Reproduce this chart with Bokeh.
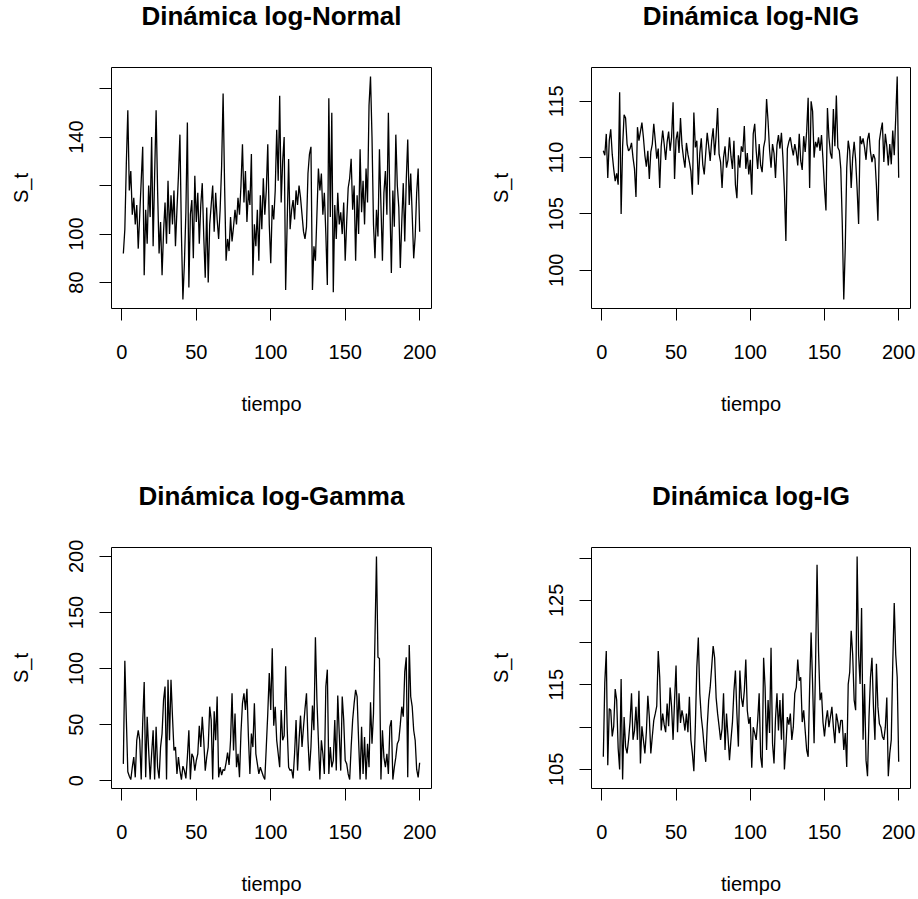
from bokeh.plotting import figure
from bokeh.models import Range1d, FixedTicker, Label
from bokeh.layouts import column, row
from bokeh.embed import file_html
from bokeh.resources import INLINE

tiempo = list(range(1, 201))

s_normal = [
    92, 102, 129, 151, 118, 126, 108, 115, 104, 112,
    94, 108, 122, 136, 83, 110, 96, 120, 107, 140,
    95, 124, 151, 118, 92, 105, 83, 101, 113, 96,
    122, 100, 116, 104, 118, 95, 110, 124, 141, 100,
    73, 88, 109, 146, 78, 108, 114, 90, 124, 105,
    117, 96, 112, 121, 99, 82, 111, 80, 104, 112,
    120, 101, 117, 106, 98, 110, 128, 158, 120, 89,
    98, 93, 107, 97, 103, 110, 104, 115, 108, 120,
    137, 113, 126, 105, 118, 112, 133, 83, 104, 95,
    110, 89, 116, 102, 123, 108, 118, 137, 104, 88,
    112, 106, 118, 143, 122, 157, 113, 130, 140, 77,
    104, 131, 102, 110, 114, 106, 118, 112, 120, 115,
    108, 101, 98, 103, 125, 133, 136, 77, 95, 89,
    108, 127, 118, 125, 108, 117, 100, 79, 156, 107,
    150, 76, 112, 98, 117, 104, 109, 100, 113, 89,
    105, 119, 123, 131, 110, 120, 89, 116, 100, 135,
    109, 122, 104, 127, 113, 153, 165, 140, 104, 90,
    110, 99, 135, 112, 89, 117, 126, 108, 150, 113,
    84, 118, 103, 141, 120, 111, 86, 105, 121, 97,
    122, 139, 112, 125, 108, 90, 99, 117, 127, 101,
]

s_nig = [
    110.6, 110.2, 112.1, 108.2, 111.5, 112.5, 110.3, 109.0, 107.9, 108.6,
    107.6, 115.8, 105.0, 111.0, 113.8, 113.5, 111.2, 110.6, 110.8, 111.3,
    110.0, 109.0, 106.5, 112.7, 111.5, 112.3, 113.1, 111.8, 110.2, 109.2,
    110.6, 108.1, 110.5, 111.2, 113.0, 111.5, 109.9, 110.8, 107.3, 111.0,
    112.4, 111.2, 109.8, 111.4, 112.3, 110.6, 111.8, 114.9, 108.1, 111.6,
    112.3, 110.4, 113.5, 111.1, 110.0, 109.1, 111.3, 110.3, 109.6, 108.8,
    106.7, 114.0, 110.9, 111.5, 107.6, 110.4, 111.7, 109.4, 108.5, 110.4,
    112.2, 111.0, 109.7, 111.5, 112.6, 110.2, 111.9, 114.4, 110.3, 109.6,
    107.3, 110.0, 111.0, 109.1, 109.8, 111.8, 110.1, 109.0, 111.5, 107.6,
    106.4, 110.2, 109.1, 111.0, 110.5, 112.8, 109.0, 110.4, 108.5, 109.8,
    106.7, 112.1, 113.0, 110.6, 109.0, 111.2, 109.3, 108.7, 110.9, 111.6,
    115.2, 113.2, 110.7, 109.1, 111.2, 110.4, 108.2, 111.1, 112.0, 110.8,
    112.2, 110.0, 107.1, 102.6, 110.8, 111.4, 111.8, 110.9, 110.2, 111.2,
    110.5, 109.3, 112.1, 109.7, 108.9, 111.9, 110.5, 112.3, 115.3, 107.3,
    115.0, 114.1, 110.0, 111.4, 110.9, 111.8, 110.6, 112.0, 109.8, 107.3,
    105.3, 114.4, 111.8, 110.4, 109.9, 114.3, 111.0, 115.5, 110.9, 110.6,
    109.0, 104.1, 97.4, 102.0, 109.1, 111.5, 110.6, 107.3, 110.0, 111.4,
    109.8, 107.2, 104.1, 111.9, 111.2, 111.7, 110.9, 109.8, 111.6, 112.2,
    110.5, 109.6, 110.3, 109.9, 107.5, 104.4, 111.5, 112.4, 113.1, 109.6,
    112.1, 111.0, 109.3, 111.2, 109.4, 112.4, 110.2, 113.5, 117.2, 108.2,
]

s_gamma = [
    15, 107, 55, 8, 4, 1, 12, 21, 3, 36,
    45, 36, 1, 52, 88, 3, 57, 27, 1, 24,
    45, 1, 48, 12, 2, 30, 42, 72, 84, 1,
    90, 36, 90, 57, 27, 30, 6, 21, 9, 1,
    13, 9, 2, 21, 45, 1, 24, 21, 9, 18,
    24, 49, 30, 57, 36, 9, 21, 30, 66, 54,
    1, 62, 36, 75, 3, 12, 5, 10, 9, 16,
    25, 14, 36, 78, 27, 60, 12, 24, 3, 43,
    69, 78, 63, 82, 39, 6, 42, 30, 69, 24,
    15, 6, 12, 8, 4, 1, 30, 60, 96, 63,
    118, 49, 66, 36, 24, 12, 63, 36, 40, 102,
    48, 12, 9, 10, 2, 24, 54, 9, 36, 58,
    30, 48, 64, 78, 36, 9, 30, 67, 45, 128,
    72, 36, 1, 36, 24, 6, 84, 99, 6, 30,
    12, 18, 54, 9, 76, 42, 9, 75, 54, 18,
    15, 6, 1, 30, 54, 69, 81, 75, 36, 1,
    48, 6, 39, 1, 33, 12, 70, 33, 60, 128,
    200, 110, 109, 1, 45, 21, 12, 24, 6, 48,
    54, 1, 12, 21, 33, 36, 50, 66, 57, 97,
    110, 3, 121, 75, 66, 45, 36, 10, 3, 16,
]

s_ig = [
    106.5, 115.3, 119.0, 105.5, 112.2, 112.0, 108.9, 110.1, 114.5, 113.2,
    107.5, 105.0, 115.7, 103.8, 111.2, 107.7, 106.9, 108.5, 110.6, 114.0,
    108.5, 109.6, 112.4, 108.5, 114.3, 105.7, 110.1, 108.5, 106.9, 109.4,
    113.7, 111.2, 106.9, 108.9, 110.8, 111.6, 112.5, 119.0, 115.9, 109.6,
    111.6, 110.3, 109.4, 112.8, 110.1, 114.7, 112.4, 108.5, 113.2, 117.3,
    109.4, 114.0, 110.5, 112.0, 111.0, 109.6, 111.6, 109.4, 113.6, 108.5,
    106.9, 104.8, 110.1, 117.1, 120.6, 114.0, 111.2, 109.6, 107.5, 105.9,
    110.1, 113.2, 114.7, 117.1, 119.6, 118.2, 113.5, 111.6, 110.1, 108.5,
    109.8, 114.0, 107.3, 111.6, 108.9, 106.1, 108.5, 110.6, 114.3, 116.7,
    111.6, 107.7, 116.7, 113.5, 112.4, 114.3, 118.0, 112.0, 110.4, 111.2,
    105.2, 110.0, 109.3, 108.5, 110.8, 114.0, 106.5, 105.2, 118.2, 114.7,
    107.3, 113.2, 109.3, 119.4, 108.1, 105.7, 111.0, 114.0, 109.6, 113.2,
    108.5, 114.0, 105.0, 107.7, 111.2, 110.3, 111.6, 108.5, 110.0, 114.0,
    114.7, 118.0, 115.5, 115.9, 110.6, 112.0, 109.6, 107.3, 106.5, 114.7,
    121.2, 115.1, 108.1, 117.5, 129.2, 119.0, 113.2, 114.1, 110.6, 108.9,
    110.8, 112.0, 110.0, 111.2, 112.4, 110.0, 108.1, 111.6, 110.6, 109.3,
    110.8, 110.8, 107.3, 109.3, 105.3, 115.1, 116.5, 121.4, 118.6, 113.2,
    112.0, 130.2, 118.6, 115.1, 124.1, 108.5, 115.1, 106.1, 104.2, 111.2,
    115.9, 118.2, 112.4, 108.5, 117.5, 112.4, 110.4, 110.0, 108.9, 108.5,
    110.0, 113.5, 104.2, 106.9, 108.5, 117.5, 124.7, 118.6, 115.9, 105.9,
]

titles = ["Dinámica log-Normal", "Dinámica log-NIG", "Dinámica log-Gamma", "Dinámica log-IG"]
x_label = "tiempo"
y_label = "S_t"
x_ticks = [0, 50, 100, 150, 200]
y_ticks = [
    [80, 100, 120, 140, 160],
    [100, 105, 110, 115],
    [0, 50, 100, 150, 200],
    [105, 110, 115, 120, 125, 130],
]
y_tick_labels = [
    ["80", "100", "", "140", ""],
    ["100", "105", "110", "115"],
    ["0", "50", "100", "150", "200"],
    ["105", "", "115", "", "125", ""],
]

FONT = "Liberation Sans"
FRAME_H = 241


def padded(lo, hi):
    d = 0.04 * (hi - lo)
    return lo - d, hi + d


def panel(title, x, y, yt, ytl, width, height, bl, br, bt, bb):
    x0, x1 = padded(min(x), max(x))
    y0, y1 = padded(min(y), max(y))
    p = figure(width=width, height=height, output_backend="svg", toolbar_location=None,
               x_range=Range1d(x0, x1), y_range=Range1d(y0, y1),
               min_border_left=bl, min_border_right=br,
               min_border_top=bt, min_border_bottom=bb,
               background_fill_color="white", border_fill_color="white")
    p.line(x, y, line_color="black", line_width=1.3)
    p.grid.visible = False
    p.outline_line_color = "black"
    p.outline_line_width = 1
    p.outline_line_alpha = 1

    for ax in (p.xaxis[0], p.yaxis[0]):
        ax.axis_line_color = None
        ax.major_tick_line_color = "black"
        ax.major_tick_out = 12
        ax.major_tick_in = 0
        ax.minor_tick_line_color = None
        ax.major_label_text_font = FONT
        ax.major_label_text_font_size = "20px"
        ax.major_label_text_color = "black"
        ax.axis_label_text_font = FONT
        ax.axis_label_text_font_size = "20px"
        ax.axis_label_text_font_style = "normal"
        ax.axis_label_text_color = "black"

    p.xaxis.ticker = FixedTicker(ticks=x_ticks)
    p.xaxis.major_label_standoff = 24
    p.xaxis.axis_label = x_label
    p.xaxis.axis_label_standoff = 31

    p.yaxis.ticker = FixedTicker(ticks=yt)
    p.yaxis.major_label_overrides = {t: l for t, l in zip(yt, ytl)}
    p.yaxis.major_label_orientation = "vertical"
    p.yaxis.major_label_standoff = 16
    p.yaxis.axis_label = y_label
    p.yaxis.axis_label_standoff = 35

    lab = Label(x=(x0 + x1) / 2, y=y1 + 51.5 * (y1 - y0) / FRAME_H, text=title,
                text_align="center", text_baseline="alphabetic",
                text_font=FONT, text_font_size="26px", text_font_style="bold",
                text_color="black")
    p.add_layout(lab, "above")
    return p


p1 = panel(titles[0], tiempo, s_normal, y_ticks[0], y_tick_labels[0], 480, 480, 111, 49, 67, 172)
p2 = panel(titles[1], tiempo, s_nig, y_ticks[1], y_tick_labels[1], 437, 480, 111, 7, 67, 172)
p3 = panel(titles[2], tiempo, s_gamma, y_ticks[2], y_tick_labels[2], 480, 418, 111, 49, 67, 110)
p4 = panel(titles[3], tiempo, s_ig, y_ticks[3], y_tick_labels[3], 437, 418, 111, 7, 67, 110)

layout = column(row(p1, p2), row(p3, p4))
open("out.html", "w").write(file_html(layout, INLINE))
